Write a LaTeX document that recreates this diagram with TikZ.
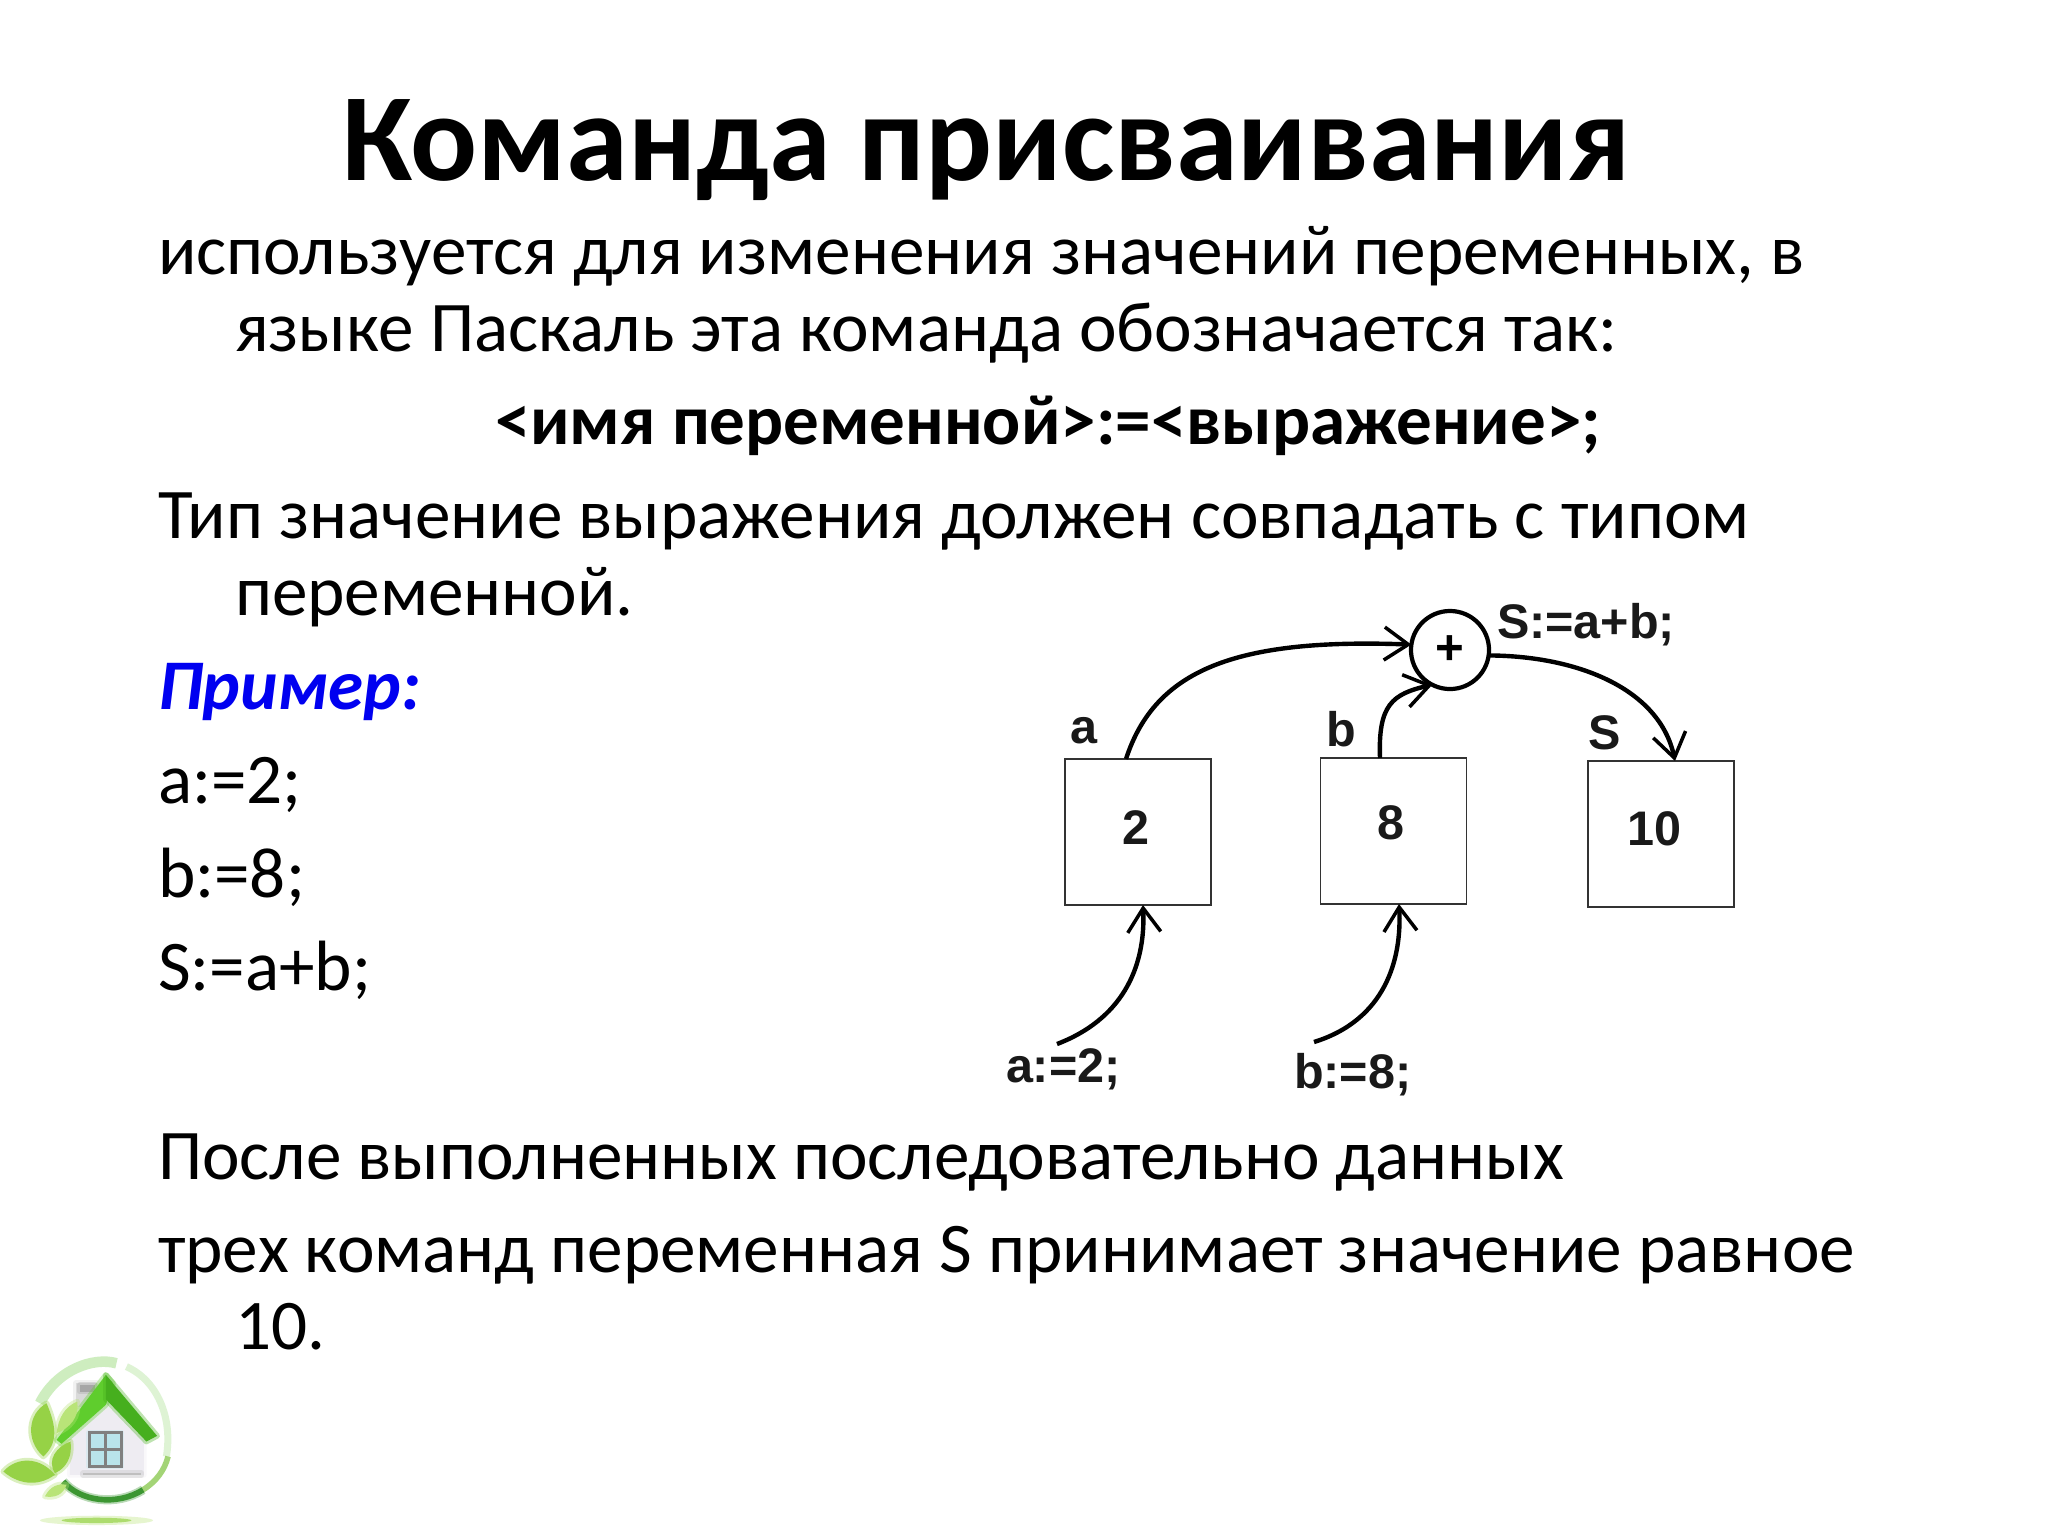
\documentclass[tikz,border=0pt]{standalone}
\usepackage{fontspec}
\setmainfont{Carlito}
\newfontfamily\diag{Liberation Sans}
\usetikzlibrary{arrows.meta,calc}
\definecolor{roofd}{RGB}{70,175,30}
\definecolor{roofl}{RGB}{95,205,45}
\definecolor{leafa}{RGB}{150,210,70}
\definecolor{leafb}{RGB}{185,228,120}
\definecolor{leafc}{RGB}{125,195,60}
\definecolor{ringd}{RGB}{60,150,50}
\definecolor{ringl}{RGB}{190,232,170}
\definecolor{wallc}{RGB}{238,236,242}
\definecolor{glass}{RGB}{185,228,235}
\tikzset{
 txt/.style={anchor=base west,inner sep=0pt,outer sep=0pt,text=black},
 bodytxt/.style={txt,font=\fontsize{20.25}{24}\selectfont},
 boxn/.style={draw=black!80,line width=0.5pt,minimum width=1.46cm,minimum height=1.46cm,inner sep=0pt,outer sep=0pt},
 lab/.style={anchor=base,inner sep=0pt,outer sep=0pt,font=\diag\bfseries\fontsize{13.8}{15}\selectfont,text=black!90},
 conn/.style={line width=1.25pt,black,-{Straight Barb[length=0.24cm,width=0.33cm,line width=1pt]}},
 soft/.style={fill=#1,draw=#1,draw opacity=.35,line width=1.6pt,line join=round},
}
\begin{document}
\begin{tikzpicture}[x=0.01cm,y=-0.01cm]
\useasboundingbox[fill=white] (0,0) rectangle (2048,1536);
\node[txt,font=\bfseries\fontsize{35.5}{40}\selectfont] (title) at (342,180) {Команда присваивания};
\node[bodytxt] (l1) at (158,274) {используется для изменения значений переменных, в};
\node[bodytxt] (l2) at (235,351) {языке Паскаль эта команда обозначается так:};
\node[bodytxt,font=\bfseries\fontsize{20.2}{24}\selectfont] (l3) at (495,444) {<имя переменной>:=<выражение>;};
\node[bodytxt] (l4) at (158,538) {Тип значение выражения должен совпадать с типом};
\node[bodytxt] (l5) at (235,615) {переменной.};
\node[bodytxt,font=\bfseries\itshape\fontsize{20.25}{24}\selectfont,text={rgb,255:red,0;green,0;blue,240}] (l6) at (158,709) {Пример:};
\node[bodytxt] (l7) at (158,803) {a:=2;};
\node[bodytxt] (l8) at (158,897) {b:=8;};
\node[bodytxt] (l9) at (158,990) {S:=a+b;};
\node[bodytxt] (l10) at (158,1179) {После выполненных последовательно данных};
\node[bodytxt] (l11) at (158,1272) {трех команд переменная S принимает значение равное};
\node[bodytxt] (l12) at (235,1349) {10.};
% diagram
\node[boxn] (ba) at (1138,832) {};
\node[boxn] (bb) at (1393.5,831) {};
\node[boxn] (bs) at (1661,834) {};
\node[circle,draw=black,line width=1.2pt,minimum size=0.78cm,inner sep=0pt,outer sep=0pt,font=\diag\bfseries\fontsize{14}{15}\selectfont] (plus) at (1450,650) {+};
\node[lab] (t2) at (1136,844) {2};
\node[lab] (t8) at (1391,839) {8};
\node[lab] (t10) at (1654,845) {10};
\node[lab] (na) at (1084,743) {a};
\node[lab] (nb) at (1341,746) {b};
\node[lab] (ns) at (1605,749) {S};
\node[lab,anchor=base west] (ts) at (1497,638) {S:=a+b;};
\node[lab,anchor=base west] (ta) at (1006,1082) {a:=2;};
\node[lab,anchor=base west] (tb) at (1294,1088) {b:=8;};
\coordinate (fa) at (1057,1044);
\coordinate (fb) at (1314,1042);
\draw[conn] ([xshift=-0.12cm]ba.north) .. controls (1155,670) and (1235,638) .. (plus.172);
\draw[conn] ([xshift=-0.135cm]bb.north) .. controls (1378,705) and (1392,694) .. (plus.243);
\draw[conn] (plus.-8) .. controls (1580,656) and (1660,690) .. ([xshift=0.14cm]bs.north);
\draw[conn] (fa) .. controls (1120,1020) and (1146,970) .. ([xshift=0.05cm]ba.south);
\draw[conn] (fb) .. controls (1385,1020) and (1402,960) .. ([xshift=0.055cm]bb.south);
% logo, in crop coordinates (3x)
\begin{scope}[shift={(0,1340)},x=0.003333cm,y=-0.003333cm]
 \fill[leafb,opacity=.35] (290,542) ellipse (170 and 14);
 \fill[leafa,opacity=.7] (290,542) ellipse (105 and 8);
 \draw[ringl,line width=3pt,opacity=.75] (120,190) .. controls (170,90) and (280,50) .. (350,70);
 \draw[ringl,line width=2pt,opacity=.5] (500,350) .. controls (520,230) and (470,120) .. (380,80);
 \draw[ringd,line width=2.6pt,opacity=.35] (190,425) .. controls (240,485) and (350,500) .. (430,450);
 \draw[ringd,line width=1.6pt] (190,425) .. controls (240,485) and (350,500) .. (430,450);
 \draw[leafc,line width=1.6pt,opacity=.7] (430,450) .. controls (470,425) and (495,390) .. (505,350);
 \path[soft=black!15] (228,130) rectangle (292,200);
 \path[soft=black!35] (240,135) rectangle (285,155);
 \path[soft=wallc] (210,290) -- (320,195) -- (432,300) -- (432,405) -- (210,405) -- cycle;
 \path[soft=black!25] (250,400) rectangle (425,406);
 \path[soft=glass] (268,278) rectangle (365,380);
 \draw[black!50,line width=.8pt] (268,278) rectangle (365,380) (316,278) -- (316,380) (268,330) -- (365,330);
 \path[soft=roofl] (170,300) -- (318,105) -- (340,130) -- (318,195) -- (185,312) -- cycle;
 \path[soft=roofd] (318,105) -- (472,288) -- (440,305) -- (318,178) -- cycle;
 \path[soft=leafa] (130,350) .. controls (75,300) and (85,220) .. (140,190) .. controls (170,260) and (175,310) .. (130,350) -- cycle;
 \path[soft=leafb] (170,280) .. controls (175,235) and (195,200) .. (232,185) .. controls (240,230) and (210,265) .. (170,280) -- cycle;
 \path[soft=leafa] (165,400) .. controls (140,360) and (170,320) .. (212,305) .. controls (218,350) and (200,385) .. (165,400) -- cycle;
 \path[soft=leafa] (10,395) .. controls (50,350) and (120,350) .. (165,405) .. controls (110,445) and (50,430) .. (10,395) -- cycle;
 \path[soft=leafb] (135,470) .. controls (150,440) and (175,430) .. (200,435) .. controls (190,465) and (165,475) .. (135,470) -- cycle;
\end{scope}
\end{tikzpicture}
\end{document}
